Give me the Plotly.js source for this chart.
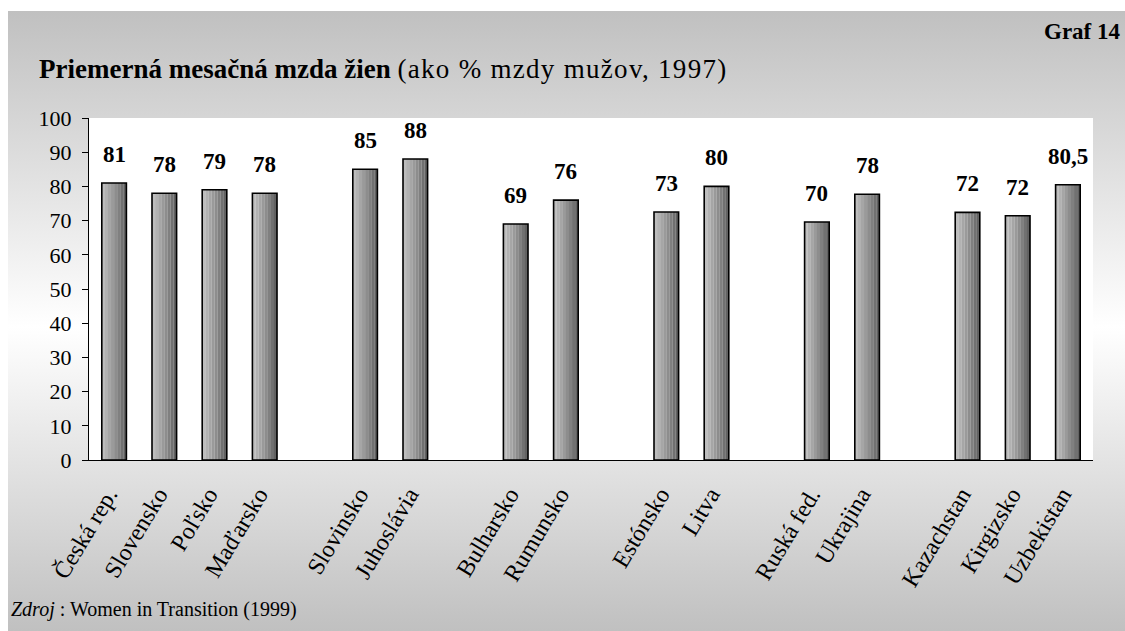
<!DOCTYPE html>
<html>
<head>
<meta charset="utf-8">
<script src="https://cdn.plot.ly/plotly-3.0.1.min.js"></script>
<style>
  html, body { margin: 0; padding: 0; background: #ffffff; }
  #wrap { position: relative; width: 1125px; height: 631px; overflow: hidden; }
  #bg { position: absolute; left: 8px; top: 11px; width: 1117px; height: 620px;
        background: linear-gradient(to bottom, #c0c0c0 0%, #ffffff 51%, #c0c0c0 100%); }
  #chart { position: absolute; left: 0; top: 0; width: 1125px; height: 631px; }
</style>
</head>
<body>
<div id="wrap">
  <div id="bg"></div>
  <div id="chart"></div>
</div>
<script>
// ---- data ----
const countries = ['Česká rep.', 'Slovensko', 'Poľsko', 'Maďarsko',
                   'Slovinsko', 'Juhoslávia',
                   'Bulharsko', 'Rumunsko',
                   'Estónsko', 'Litva',
                   'Ruská fed.', 'Ukrajina',
                   'Kazachstan', 'Kirgizsko', 'Uzbekistan'];
const values = [81, 78, 79, 78,
                85, 88,
                69, 76,
                72.5, 80,
                69.6, 77.7,
                72.4, 71.4, 80.5];
const valueLabels = ['81', '78', '79', '78',
                     '85', '88',
                     '69', '76',
                     '73', '80',
                     '70', '78',
                     '72', '72', '80,5'];
// category order with empty slots between the country groups
const categoryOrder = ['Česká rep.', 'Slovensko', 'Poľsko', 'Maďarsko', ' ',
                       'Slovinsko', 'Juhoslávia', '  ',
                       'Bulharsko', 'Rumunsko', '   ',
                       'Estónsko', 'Litva', '    ',
                       'Ruská fed.', 'Ukrajina', '     ',
                       'Kazachstan', 'Kirgizsko', 'Uzbekistan'];
const yTicks = [0, 10, 20, 30, 40, 50, 60, 70, 80, 90, 100];

// ---- style ----
const FONT = 'Liberation Serif';
const barW = 0.49;
const stripeColors = ['#bdbdbd', '#b2b2b2', '#a6a6a6', '#9a9a9a', '#8d8d8d', '#808080', '#717171', '#626262'];
const n = stripeColors.length;

const traces = stripeColors.map((c, i) => ({
  type: 'bar',
  x: countries,
  y: values,
  width: barW / n + 0.002,
  offset: -barW / 2 + i * barW / n,
  marker: { color: c, line: { width: 0 } },
  hoverinfo: 'skip',
  showlegend: false
}));
traces.push({
  type: 'bar',
  x: countries,
  y: values,
  width: barW,
  offset: -barW / 2,
  marker: { color: 'rgba(0,0,0,0)', line: { color: '#000000', width: 1.6 } },
  hoverinfo: 'x+y',
  showlegend: false
});

// plot area in pixels: x 89..1093, y 118..460
const L = 89, R = 1093, T = 118, B = 460;
const px = v => (v - L) / (R - L);
const py = v => (B - v) / (B - T);

const annotations = countries.map((c, i) => ({
  x: c, y: values[i], xref: 'x', yref: 'y',
  text: '<b>' + valueLabels[i] + '</b>',
  showarrow: false, yanchor: 'bottom', xanchor: 'center', yshift: 14,
  font: { family: FONT, size: 23, color: '#000' }
}));
annotations.push({
  xref: 'paper', yref: 'paper', x: px(37), y: py(69), xanchor: 'left', yanchor: 'middle',
  text: '<b style="font-size:27px">Priemerná mesačná mzda žien</b> <span style="font-size:27px;letter-spacing:1.3px">(ako % mzdy mužov, 1997)</span>',
  showarrow: false, font: { family: FONT, size: 27, color: '#000' }
});
annotations.push({
  xref: 'paper', yref: 'paper', x: px(1123), y: py(32), xanchor: 'right', yanchor: 'middle',
  text: '<b>Graf 14</b>',
  showarrow: false, font: { family: FONT, size: 23, color: '#000' }
});
annotations.push({
  xref: 'paper', yref: 'paper', x: px(9), y: py(609), xanchor: 'left', yanchor: 'middle',
  text: '<i>Zdroj</i> : Women in Transition (1999)',
  showarrow: false, font: { family: FONT, size: 20, color: '#000' }
});

const layout = {
  width: 1125, height: 631,
  margin: { l: L, r: 1125 - R, t: T, b: 631 - B, pad: 0 },
  paper_bgcolor: 'rgba(0,0,0,0)',
  plot_bgcolor: '#ffffff',
  barmode: 'overlay',
  showlegend: false,
  font: { family: FONT, color: '#000' },
  xaxis: {
    type: 'category',
    categoryorder: 'array',
    categoryarray: categoryOrder,
    range: [-0.5, categoryOrder.length - 0.5],
    showline: true, linecolor: '#000', linewidth: 1,
    ticks: '', showgrid: false, zeroline: false,
    tickangle: -59,
    ticklabelstandoff: 10,
    ticklabelshift: -6,
    tickfont: { family: FONT, size: 24, color: '#000' },
    fixedrange: true
  },
  yaxis: {
    range: [0, 100],
    tickvals: yTicks,
    ticktext: yTicks.map(String),
    showline: true, linecolor: '#000', linewidth: 1,
    ticks: 'outside', ticklen: 6, tickcolor: '#000', tickwidth: 1,
    ticklabelstandoff: 6,
    showgrid: false, zeroline: false,
    tickfont: { family: FONT, size: 22, color: '#000' },
    fixedrange: true
  },
  annotations: annotations
};

Plotly.newPlot('chart', traces, layout, { displayModeBar: false, staticPlot: true });
</script>
</body>
</html>
